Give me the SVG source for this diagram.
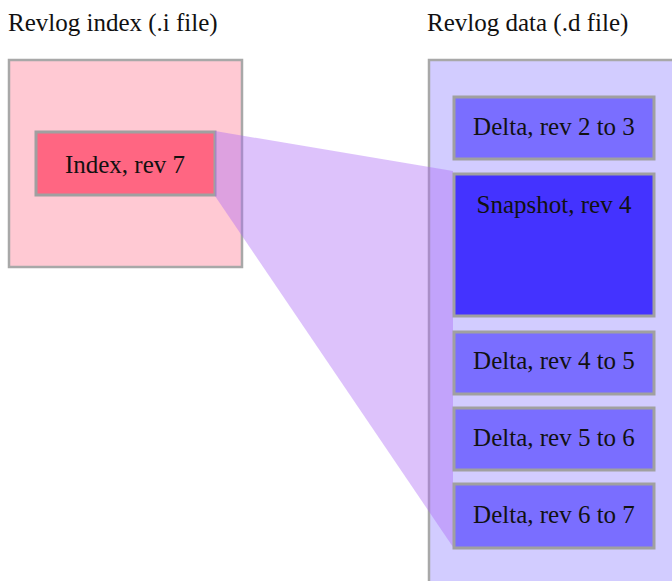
<svg xmlns="http://www.w3.org/2000/svg" width="672" height="581" viewBox="0 0 672 581">
<style>
text{font-family:"Liberation Serif","Times New Roman",serif;font-size:25px;fill:#111}
.c{text-anchor:middle}
.box{stroke:#a0a0a0;stroke-width:3}
.outer{stroke:#a8a8a8;stroke-width:2.5}
.delta{fill:#7a6eff}
</style>
<rect width="672" height="581" fill="#ffffff"/>
<text x="8" y="31">Revlog index (.i file)</text>
<text x="427" y="31">Revlog data (.d file)</text>
<g id="index-file"><rect class="outer" x="9" y="60" width="233" height="207" fill="#ffc9d3"/></g>
<g id="data-file"><rect class="outer" x="429" y="60" width="260" height="540" fill="#d2ccff"/></g>
<g id="index-rev7"><rect class="box" x="36" y="132" width="179" height="63" fill="#ff6682"/><text class="c" x="125" y="173">Index, rev 7</text></g>
<g id="connectors"><polygon points="215,131 453,171 453,547 215,196" fill="#aa66f5" fill-opacity="0.4"/></g>
<g id="delta-2-3"><rect class="box delta" x="454" y="97" width="200" height="62"/><text class="c" x="554" y="135">Delta, rev 2 to 3</text></g>
<g id="snapshot-4"><rect class="box" x="454" y="174" width="200" height="142" fill="#4433ff"/><text class="c" x="554" y="213">Snapshot, rev 4</text></g>
<g id="delta-4-5"><rect class="box delta" x="454" y="332" width="200" height="62"/><text class="c" x="554" y="369">Delta, rev 4 to 5</text></g>
<g id="delta-5-6"><rect class="box delta" x="454" y="408" width="200" height="62"/><text class="c" x="554" y="446">Delta, rev 5 to 6</text></g>
<g id="delta-6-7"><rect class="box delta" x="454" y="484" width="200" height="64"/><text class="c" x="554" y="523">Delta, rev 6 to 7</text></g>
</svg>
